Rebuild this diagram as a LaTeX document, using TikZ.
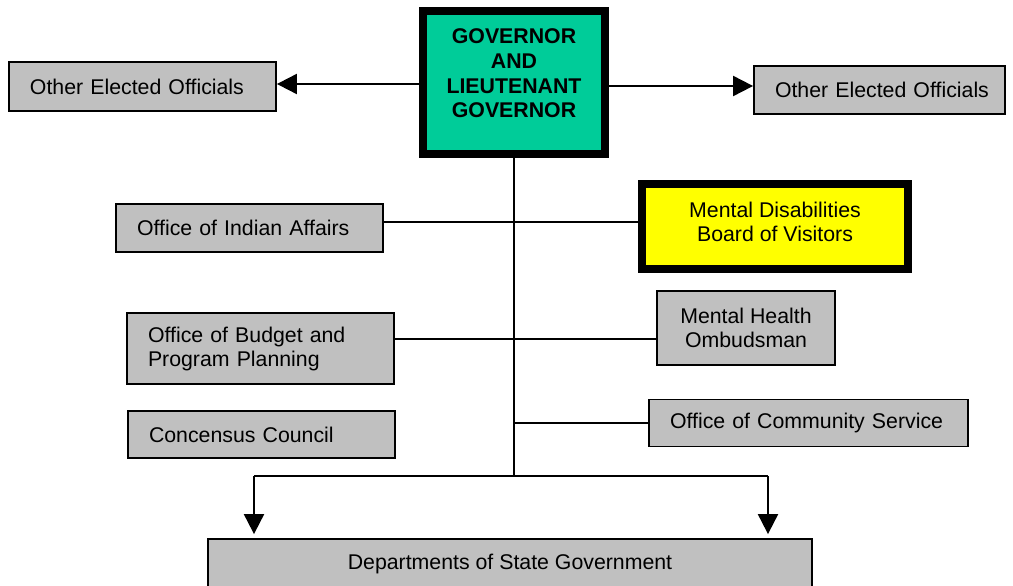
\documentclass[tikz,border=0pt]{standalone}
\usepackage{fontspec}
\setmainfont{Liberation Sans}
\usetikzlibrary{arrows.meta}
\definecolor{boxgray}{HTML}{C0C0C0}
\definecolor{govteal}{HTML}{00CC99}
\definecolor{mdyellow}{HTML}{FFFF00}
\newcommand{\chartfont}{\fontsize{21.3}{24}\selectfont}
\begin{document}
\begin{tikzpicture}[x=1pt,y=-1pt,
  graybox/.style={draw=black, line width=1.8pt, fill=boxgray, inner sep=0pt, font=\chartfont},
  lbox/.style={graybox, align=left, inner xsep=21pt},
  cbox/.style={graybox, align=center},
  heavybox/.style={draw=black, line width=8pt, inner sep=0pt, align=center, font=\chartfont},
  conn/.style={draw=black, line width=2pt},
  arr/.style={conn, -{Triangle[width=20pt,length=20pt]}}
]
\useasboundingbox (0,0) rectangle (1013,586);

\node[heavybox, fill=govteal, minimum width=182pt, minimum height=143pt, text depth=18pt,
      font={\fontsize{21.3}{24.7}\selectfont\bfseries}] (gov) at (514,82.5)
      {GOVERNOR\\AND\\LIEUTENANT\\GOVERNOR};

\node[lbox, text width=225pt, minimum height=49pt] (loeo) at (142.5,86.5) {Other Elected Officials};
\node[lbox, text width=209pt, minimum height=48pt] (roeo) at (879.5,90) {\mbox{Other Elected Officials}};
\node[lbox, text width=225pt, minimum height=48pt] (oia) at (249.5,228) {Office of Indian Affairs};
\node[lbox, text width=225pt, minimum height=71pt] (obp) at (260.5,348.5) {Office of Budget and\\Program Planning};
\node[lbox, text width=225pt, minimum height=47pt] (cc) at (261.5,434.5) {Concensus Council};
\node[cbox, minimum width=178pt, minimum height=74pt] (mh) at (746,328) {Mental Health\\Ombudsman};
\node[lbox, text width=277pt, minimum height=47pt] (cs) at (808.5,423) {Office of Community Service};
\node[heavybox, fill=mdyellow, minimum width=266pt, minimum height=85pt, text depth=10pt] (md) at (775,226.5)
      {Mental Disabilities\\Board of Visitors};
\node[cbox, minimum width=604pt, minimum height=50pt] (dept) at (510,564) {Departments of State Government};

\coordinate (j) at (514,476);
\coordinate (jl) at (254,476);
\coordinate (jr) at (768,476);

\draw[arr] ([yshift=-1.5pt]gov.west) -- ([yshift=2.5pt]loeo.east);
\draw[arr] ([yshift=-3.5pt]gov.east) -- ([yshift=4pt]roeo.west);
\draw[conn] (gov.south) -- (j);
\draw[conn] ([yshift=6pt]oia.east) -- ([yshift=4.5pt]md.west);
\draw[conn] ([yshift=9.5pt]obp.east) -- ([yshift=-11pt]mh.west);
\draw[conn] (cs.west) -- (cs.west -| j);
\draw[conn] (jl) -- (jr);
\draw[arr, shorten >=4pt] (jl) -- (jl |- dept.north);
\draw[arr, shorten >=4pt] (jr) -- (jr |- dept.north);
\end{tikzpicture}
\end{document}
